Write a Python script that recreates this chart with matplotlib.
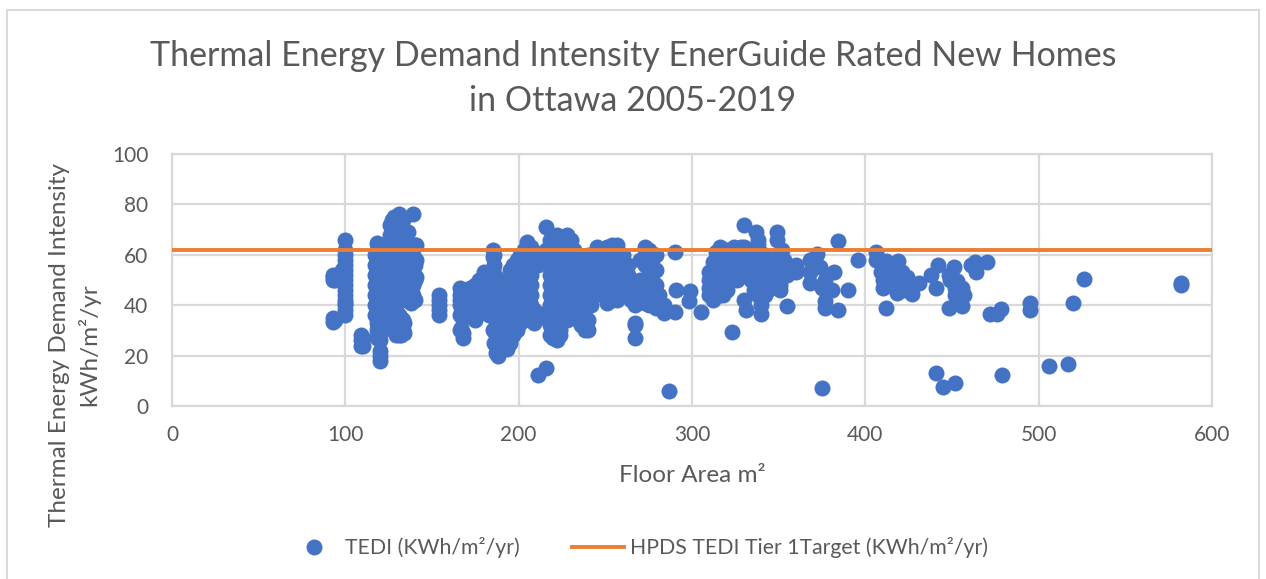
import matplotlib
matplotlib.use('Agg')
import matplotlib.pyplot as plt
from matplotlib.lines import Line2D

# floor area -> TEDI values
area_cols = [93, 94, 98, 100, 109, 110,
             117, 118, 119, 120, 122, 124, 126, 128, 129, 130, 131, 132, 133, 134, 135, 136, 137, 138, 139, 140, 141,
             154, 166, 167, 168, 172, 175, 177, 180, 183, 185, 186, 187, 188, 190, 192, 193, 195, 197, 199, 201, 203, 205, 207, 209, 211,
             216, 218, 220, 222, 224, 226, 228, 230, 232, 234, 236, 238, 240, 242, 245, 248, 251, 254, 257, 260, 263, 265, 267, 270, 273, 275, 277, 279, 281, 284,
             310, 312, 314, 316, 318, 320, 322, 324, 326, 328, 330, 332, 334, 336, 338, 340, 342, 344, 346]
tedi_cols = [
    [33.5, 35, 50, 51, 52], [34, 50], [54], [36, 38, 40, 41, 42, 44, 46, 48, 50, 52, 54, 56, 58, 60, 62, 66], [24, 26, 28], [24, 27],
    [36, 40, 44, 48, 52, 56, 60], [27, 30, 33, 36, 39, 42, 46, 50, 54, 58, 62, 64.5], [28, 32, 36, 40, 44, 48, 52, 56, 60, 63], [18, 20, 22, 26, 30, 34, 38], [34, 38, 42, 46, 50, 54, 58, 62], [36, 40, 44, 48, 52, 56, 60, 64], [44, 48, 52, 56, 60, 64, 68], [30, 34, 38, 50, 56, 62, 68, 72], [28, 32, 36, 44, 52, 60, 66, 74], [29, 33, 37, 46, 54, 62, 70, 75], [28, 32, 36, 44, 52, 58, 66, 76], [28, 31, 35, 42, 50, 56, 64, 72], [30, 34, 46, 54, 60, 68, 74], [29, 33, 44, 50, 58, 64, 70], [42, 48, 54, 60, 66], [44, 52, 58, 64, 69], [42, 46, 50, 56, 62], [41, 46, 52, 58, 64], [76, 60, 54, 48, 44], [42, 50, 56, 64], [51, 58, 64],
    [36, 38, 40, 42, 44], [30, 36, 40, 42, 44, 47], [31, 37, 41, 45], [27, 29, 35, 43], [40, 44, 47], [34, 38, 44, 48], [37, 41, 45, 50], [38, 44, 49, 53], [36, 42, 47, 52], [30, 36, 42, 48, 54, 59, 62], [25, 30, 36, 41, 46, 51, 56, 60], [21, 24, 28, 32, 36, 41, 46, 51], [20, 23, 26, 30, 34, 38, 42, 46], [24, 28, 32, 36, 40, 44, 48], [23, 27, 31, 35, 39, 43, 47], [22.5, 26, 30, 34, 38, 42, 46], [25, 29, 33, 37, 41, 45, 50, 54], [28, 32, 36, 40, 44, 48, 52, 56], [30, 34, 38, 42, 46, 50, 54, 58], [33, 37, 41, 45, 49, 53, 57, 60], [34, 38, 42, 46, 50, 54, 58, 62], [36, 40, 45, 50, 56, 65], [35, 40, 44, 48, 52, 60, 63], [33, 35, 38, 58, 61], [35, 37, 56, 60],
    [71, 62, 58], [28, 32, 36, 40, 44, 48, 52, 56, 60, 64, 66], [27, 31, 35, 39, 43, 47, 51, 55, 59, 63, 67], [26, 29, 33, 37, 41, 45, 49, 53, 57, 61, 65, 68], [28, 33, 38, 43, 48, 53, 58, 63, 66], [36, 40, 44, 48, 52, 56, 60, 64], [36, 40, 44, 48, 52, 56, 60, 64, 68], [37, 41, 45, 49, 53, 57, 61, 66], [35, 39, 43, 47, 51, 55, 59, 62], [37, 41, 45, 49, 53, 57, 60], [32, 38, 42, 46, 50, 54, 58], [30, 34, 38, 42, 46, 50, 54, 58], [30, 34, 40, 44, 48, 52, 56, 60], [40, 46, 52, 58], [48, 54, 60, 63], [44, 50, 56, 62], [41, 44, 46, 52, 58, 63], [42, 48, 54, 60, 64], [42, 46, 52, 58, 64], [44, 50, 56, 60], [44, 48, 52, 56], [42, 46, 50], [27, 32, 33, 40, 43, 47], [42, 46, 50, 58], [41, 45, 50, 56, 60, 63], [40, 44, 48, 54, 60, 62], [40, 44, 50, 56, 60], [39, 43, 48, 54, 60], [40, 44], [40],
    [44, 47, 50, 53], [42, 46, 50, 54, 57], [46, 50, 54, 58, 61], [44, 48, 52, 56, 60, 63], [44, 48, 52, 56, 60, 62], [46, 50, 54, 58, 62], [50, 54, 58, 62], [52, 56, 60, 63], [50, 54, 58, 62], [52, 56, 60, 63], [52, 56, 60, 63], [54, 58, 62], [50, 54, 58, 62], [46, 50, 54, 58, 62], [44, 48, 52, 56, 60, 64], [40, 44, 48, 52, 56, 60], [44, 48, 52, 56, 60], [46, 50, 54, 58], [48, 52, 56],
]

# scattered points on the right of the chart
area_pts = [211, 216, 284, 287, 290, 290, 291, 298, 299, 305,
            323, 330, 330, 331, 337, 338, 340, 340,
            349, 349, 351, 351, 352, 355, 356, 360, 360, 368, 368, 368, 372, 372, 375, 375, 374, 377, 377, 377, 381, 382, 384, 384, 390, 396,
            126, 127, 128, 122, 124, 126, 127, 125, 224, 228, 232, 235, 237, 347, 350, 353, 355, 353]
tedi_pts = [12.5, 15, 37, 6, 61, 37.5, 46, 41.5, 45.5, 37.5,
            29.5, 72, 42, 38, 69, 66, 42, 36.5,
            69, 66, 48, 46, 62, 39.5, 54, 56, 53, 58, 53, 49, 60.5, 56, 47, 7, 55, 50, 41.5, 39, 46, 53, 65.5, 38, 46, 58,
            72, 74, 75, 30, 32, 34, 38, 42, 30, 34, 38, 36, 33, 50, 60, 58, 52, 55]
area_far = [406, 406, 410, 410, 412, 412, 416, 418, 419, 421, 422, 424, 427, 431, 438, 441, 441, 442, 445, 448, 448, 451, 452, 452, 453, 456, 456, 457,
            461, 463, 464, 470, 472, 476, 478, 479, 495, 495, 506, 517, 520, 526, 582, 582,
            419, 421, 423, 425, 420, 416, 414, 411, 409, 452, 449]
tedi_far = [61, 58, 50, 47, 57.5, 39, 54, 45, 57.5, 53, 49, 51, 44.5, 49, 52, 47, 13, 56, 7.5, 52, 39, 55, 9, 44, 49.5, 39.5, 47, 44,
            56, 57, 53, 57, 36.5, 36.5, 38.5, 12.5, 41, 38, 16, 16.5, 41, 50.5, 49, 48,
            52, 50, 46, 47, 48, 50, 52, 54, 53, 47, 50]

target_tedi = 62

x_ticks = [0, 100, 200, 300, 400, 500, 600]
y_ticks = [0, 20, 40, 60, 80, 100]

area = list(area_pts) + list(area_far)
tedi = list(tedi_pts) + list(tedi_far)
for a, col in zip(area_cols, tedi_cols):
    for t in col:
        area.append(a)
        tedi.append(t)

plt.rcParams['font.family'] = ['Lato', 'DejaVu Sans']
grey = '#595959'
grid = '#d9d9d9'
blue = '#4472c4'
orange = '#ed7d31'

W, H = 1266, 579
fig = plt.figure(figsize=(W / 100, H / 100), dpi=100)

# the outer frame of the chart, open at the bottom
fig.add_artist(Line2D([7 / W, 7 / W, 1259 / W, 1259 / W], [0, 1 - 10 / H, 1 - 10 / H, 0], color=grid, lw=1.4))

ax = fig.add_axes([172 / W, 1 - 406 / H, (1212 - 172) / W, (406 - 154) / H])
ax.scatter(area, tedi, s=133, color=blue, linewidths=0, zorder=3, clip_on=False)
ax.plot([0, 600], [target_tedi, target_tedi], color=orange, lw=2.8, zorder=4, solid_capstyle='butt')

ax.set_xlim(0, 600)
ax.set_ylim(0, 100)
ax.set_xticks(x_ticks)
ax.set_yticks(y_ticks)
ax.grid(True, color=grid, lw=1.6)
ax.set_axisbelow(True)
ax.tick_params(length=0, labelsize=15, labelcolor=grey)
ax.tick_params(axis='x', pad=14)
ax.tick_params(axis='y', pad=17)
for s in ax.spines.values():
    s.set_color(grid)
    s.set_linewidth(1.6)

fig.text(633 / W, 1 - 56 / H, 'Thermal Energy Demand Intensity EnerGuide Rated New Homes',
         ha='center', va='center', fontsize=24.5, color=grey)
fig.text(633 / W, 1 - 101 / H, 'in Ottawa 2005-2019', ha='center', va='center', fontsize=24.5, color=grey)

fig.text(692 / W, 1 - 476 / H, 'Floor Area m²', ha='center', va='center', fontsize=17.5, color=grey)
fig.text(60 / W, 1 - 345 / H, 'Thermal Energy Demand Intensity', rotation=90, ha='center', va='center',
         fontsize=17.5, color=grey)
fig.text(89 / W, 1 - 345 / H, 'kWh/m²/yr', rotation=90, ha='center', va='center', fontsize=17.5, color=grey)

# legend placed by hand
fig.add_artist(Line2D([314 / W], [1 - 547 / H], marker='o', ms=11.5, color=blue, mew=0, ls='none'))
fig.text(345 / W, 1 - 547 / H, 'TEDI (KWh/m²/yr)', va='center', fontsize=15.3, color=grey)
fig.add_artist(Line2D([572 / W, 624 / W], [1 - 547 / H, 1 - 547 / H], color=orange, lw=2.8))
fig.text(630 / W, 1 - 547 / H, 'HPDS TEDI Tier 1Target (KWh/m²/yr)', va='center', fontsize=15.3, color=grey)

fig.savefig('out.png', dpi=100)
